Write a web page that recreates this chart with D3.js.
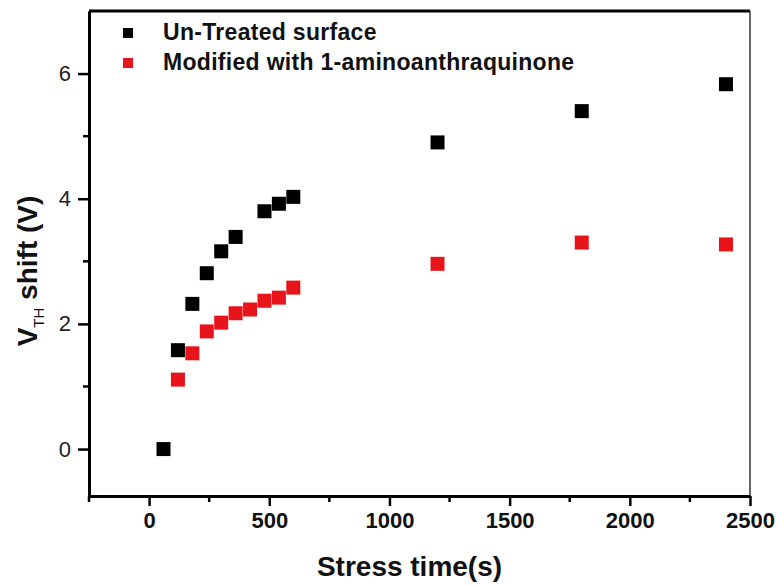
<!DOCTYPE html>
<html>
<head>
<meta charset="utf-8">
<script src="https://cdn.jsdelivr.net/npm/d3@7"></script>
<style>
  body { margin: 0; background: #fff; }
  svg { display: block; font-family: "Liberation Sans", Arial, sans-serif; }
</style>
</head>
<body>
<div id="chart"></div>
<script>
// Daten
const untreatedTime = [60, 120, 180, 240, 300, 360, 480, 540, 600, 1200, 1800, 2400];
const untreatedShift = [0, 1.58, 2.32, 2.81, 3.16, 3.39, 3.8, 3.92, 4.03, 4.9, 5.4, 5.83];
const modifiedTime = [120, 180, 240, 300, 360, 420, 480, 540, 600, 1200, 1800, 2400];
const modifiedShift = [1.11, 1.53, 1.88, 2.02, 2.17, 2.23, 2.37, 2.42, 2.58, 2.96, 3.3, 3.27];
const xTicks = [0, 500, 1000, 1500, 2000, 2500];
const yTicks = [0, 2, 4, 6];
const seriesNames = ["Un-Treated surface", "Modified with 1-aminoanthraquinone"];
const seriesColors = ["#000000", "#e8141b"];

const width = 780, height = 586;
const margin = { left: 89, right: 30, top: 11, bottom: 90 };

const svg = d3.select("#chart").append("svg")
    .attr("width", width)
    .attr("height", height);

const x = d3.scaleLinear().domain([-250, 2500]).range([margin.left, width - margin.right]);
const y = d3.scaleLinear().domain([-0.75, 7]).range([height - margin.bottom, margin.top]);

const x0 = x.range()[0], x1 = x.range()[1];
const y0 = y.range()[0], y1 = y.range()[1];

// Rahmen oben / rechts
svg.append("line").attr("x1", x0).attr("x2", x1).attr("y1", y1).attr("y2", y1)
    .attr("stroke", "#000").attr("stroke-width", 3);
svg.append("line").attr("x1", x1).attr("x2", x1).attr("y1", y1).attr("y2", y0)
    .attr("stroke", "#333").attr("stroke-width", 1.5);

// Kleine Ticks
const xMinor = d3.range(-250, 2501, 250).filter(v => !xTicks.includes(v));
const yMinor = d3.range(0, 7, 1).filter(v => !yTicks.includes(v));

svg.append("g").selectAll("line").data(xMinor).join("line")
    .attr("x1", d => x(d)).attr("x2", d => x(d))
    .attr("y1", y0).attr("y2", y0 + 6)
    .attr("stroke", "#000").attr("stroke-width", 2.5);
svg.append("g").selectAll("line").data(yMinor).join("line")
    .attr("y1", d => y(d)).attr("y2", d => y(d))
    .attr("x1", x0).attr("x2", x0 - 6)
    .attr("stroke", "#000").attr("stroke-width", 2.5);

// X-Achse
const xAxis = svg.append("g")
    .attr("transform", `translate(0,${y0})`)
    .call(d3.axisBottom(x).tickValues(xTicks).tickFormat(d3.format("d"))
        .tickSize(10).tickSizeOuter(0).tickPadding(6));
xAxis.select(".domain").attr("stroke-width", 3);
xAxis.selectAll(".tick line").attr("stroke-width", 2.5);
xAxis.selectAll(".tick text")
    .attr("font-size", 22).attr("font-weight", "bold").attr("fill", "#111")
    .attr("font-family", "'Liberation Sans', Arial, sans-serif");

// Y-Achse
const yAxis = svg.append("g")
    .attr("transform", `translate(${x0},0)`)
    .call(d3.axisLeft(y).tickValues(yTicks).tickFormat(d3.format("d"))
        .tickSize(11).tickSizeOuter(0).tickPadding(7));
yAxis.select(".domain").attr("stroke-width", 3);
yAxis.selectAll(".tick line").attr("stroke-width", 2.5);
yAxis.selectAll(".tick text")
    .attr("font-size", 22).attr("fill", "#222")
    .attr("font-family", "'Liberation Sans', Arial, sans-serif");

// Punkte
const size = 14;
const series = [
    { time: untreatedTime, shift: untreatedShift, color: seriesColors[0] },
    { time: modifiedTime, shift: modifiedShift, color: seriesColors[1] },
];
series.slice().reverse().forEach(s => {
    svg.append("g").selectAll("rect")
        .data(s.time.map((t, i) => [t, s.shift[i]]))
        .join("rect")
        .attr("x", d => x(d[0]) - size / 2)
        .attr("y", d => y(d[1]) - size / 2)
        .attr("width", size)
        .attr("height", size)
        .attr("fill", s.color);
});

// Legende
const legend = svg.append("g");
seriesNames.forEach((name, i) => {
    const ly = 33 + i * 30;
    legend.append("rect")
        .attr("x", 123).attr("y", ly - 5)
        .attr("width", 10).attr("height", 10)
        .attr("fill", seriesColors[i]);
    legend.append("text")
        .attr("x", 163).attr("y", ly + 7)
        .attr("font-size", 23).attr("font-weight", "bold").attr("fill", "#111")
        .attr("letter-spacing", 0.3)
        .text(name);
});

// Achsentitel
svg.append("text")
    .attr("x", (x0 + x1) / 2).attr("y", 576)
    .attr("text-anchor", "middle")
    .attr("font-size", 28).attr("font-weight", "bold").attr("fill", "#111")
    .attr("dx", -10)
    .text("Stress time(s)");

const yTitle = svg.append("text")
    .attr("transform", "translate(37,271) rotate(-90)")
    .attr("text-anchor", "middle")
    .attr("font-size", 28).attr("font-weight", "bold").attr("fill", "#111");
yTitle.append("tspan").text("V");
yTitle.append("tspan").attr("font-size", 15).attr("font-weight", "normal").attr("dy", 7).text("TH");
yTitle.append("tspan").attr("dy", -7).text(" shift (V)");
</script>
</body>
</html>
